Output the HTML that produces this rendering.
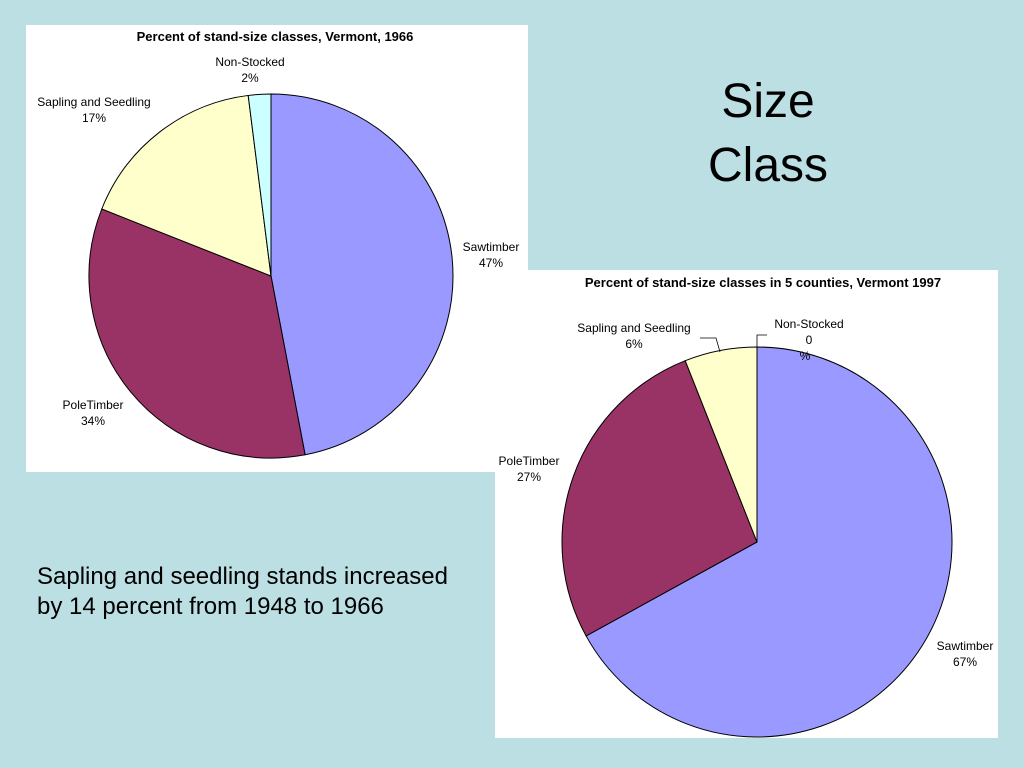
<!DOCTYPE html>
<html><head><meta charset="utf-8"><style>
body{margin:0;width:1024px;height:768px;background:#bbdfe3;position:relative;overflow:hidden;font-family:"Liberation Sans",sans-serif}
.box{position:absolute;background:#fff}
.t{position:absolute;font-family:"Liberation Sans",sans-serif}
</style></head><body>
<div class="box" style="left:26px;top:25px;width:502px;height:447px"></div>
<div class="box" style="left:495px;top:270px;width:503px;height:468px"></div>
<div class="t" style="left:668px;top:70px;width:200px;text-align:center;font-size:48px;line-height:64px">Size<br>Class</div>
<div class="t" style="left:37px;top:562px;font-size:24px;line-height:30px">Sapling and seedling stands increased<br>by 14 percent from 1948 to 1966</div>
<svg width="1024" height="768" style="position:absolute;left:0;top:0" font-family="Liberation Sans, sans-serif">
<g id="p1"></g><g id="p2"></g>
<text x="275" y="41" text-anchor="middle" font-size="13" font-weight="bold">Percent of stand-size classes, Vermont, 1966</text>
<text x="763" y="287" text-anchor="middle" font-size="13" font-weight="bold">Percent of stand-size classes in 5 counties, Vermont 1997</text>
<polyline points="700,338 716,338 720,352" fill="none" stroke="#000" stroke-width="0.8"/>
<polyline points="757,347 757,335 767,335" fill="none" stroke="#000" stroke-width="0.8"/>
<g id="labels" font-size="12" text-anchor="middle"></g>
</svg>
<script>
const cats1=["Sawtimber","PoleTimber","Sapling and Seedling","Non-Stocked"];
const vals1=[47,34,17,2];
const cats2=["Sawtimber","PoleTimber","Sapling and Seedling","Non-Stocked"];
const vals2=[67,27,6,0];
const colors=["#9999ff","#993366","#ffffcc","#ccffff"];
const ns="http://www.w3.org/2000/svg";
function pie(g,vals,cx,cy,r,nm){
  const tot=vals.reduce((a,b)=>a+b,0);let acc=0;
  vals.forEach((v,i)=>{
    if(v<=0)return;
    const a0=acc/tot*2*Math.PI;acc+=v;const a1=acc/tot*2*Math.PI;
    const x0=cx+r*Math.sin(a0),y0=cy-r*Math.cos(a0),x1=cx+r*Math.sin(a1),y1=cy-r*Math.cos(a1);
    const p=document.createElementNS(ns,"path");
    p.setAttribute("d",`M${cx},${cy}L${x0},${y0}A${r},${r} 0 ${a1-a0>Math.PI?1:0} 1 ${x1},${y1}Z`);
    p.setAttribute("fill",colors[i]);p.setAttribute("stroke","#000");p.setAttribute("stroke-width","1");
    
    
    g.appendChild(p);
  });
}
pie(document.getElementById("p1"),vals1,271,276,182,"pie-1966");
pie(document.getElementById("p2"),vals2,757,542,195,"pie-1997");
const L=document.getElementById("labels");
function lab(x,y,a,b,nm){
  [a,b].forEach((s,k)=>{const t=document.createElementNS(ns,"text");t.setAttribute("x",x);t.setAttribute("y",y+k*16);t.textContent=s;
  
  
  L.appendChild(t);});
}
lab(491,251,cats1[0],vals1[0]+"%","label-1966-sawtimber");
lab(93,409,cats1[1],vals1[1]+"%","label-1966-poletimber");
lab(94,106,cats1[2],vals1[2]+"%","label-1966-sapling");
lab(250,66,cats1[3],vals1[3]+"%","label-1966-nonstocked");
lab(965,650,cats2[0],vals2[0]+"%","label-1997-sawtimber");
lab(529,465,cats2[1],vals2[1]+"%","label-1997-poletimber");
lab(634,332,cats2[2],vals2[2]+"%","label-1997-sapling");
lab(809,328,cats2[3],String(vals2[3]),"label-1997-nonstocked");
const t=document.createElementNS(ns,"text");t.setAttribute("x",805);t.setAttribute("y",360);t.textContent="%";


L.appendChild(t);
</script>
</body></html>
